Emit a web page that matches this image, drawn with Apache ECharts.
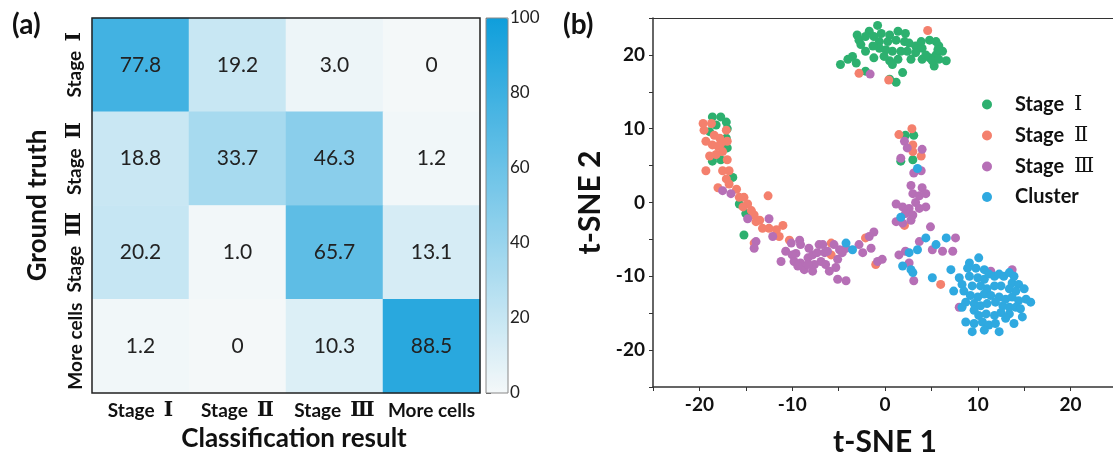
<!DOCTYPE html>
<html>
<head>
<meta charset="utf-8">
<script src="https://cdn.jsdelivr.net/npm/echarts@6/dist/echarts.min.js"></script>
<style>
html, body { margin: 0; padding: 0; background: #fff; overflow: hidden; }
#chart { width: 1120px; height: 462px; }
</style>
</head>
<body>
<div id="chart"></div>
<script>
var FONT = 'Lato, "Noto Sans CJK SC", sans-serif';
var SERIF = '"DejaVu Serif", "Liberation Serif", "Noto Sans CJK SC", serif';

// (a) confusion matrix
var predLabels = ['Stage Ⅰ', 'Stage Ⅱ', 'Stage Ⅲ', 'More cells'];
var trueLabels = ['Stage Ⅰ', 'Stage Ⅱ', 'Stage Ⅲ', 'More cells'];
var rowStage1 = [77.8, 19.2, 3.0, 0];
var rowStage2 = [18.8, 33.7, 46.3, 1.2];
var rowStage3 = [20.2, 1.0, 65.7, 13.1];
var rowMore = [1.2, 0, 10.3, 88.5];
var colorbarTicks = [0, 20, 40, 60, 80, 100];

// (b) t-SNE points
var stage1Pts = [
	[-0.8, 24.0], [-1.7, 23.2], [-3.0, 22.7], [-2.8, 22.0], [-2.1, 22.5], [-1.2, 22.5], [-0.4, 22.9],
	[0.5, 22.7], [1.4, 23.2], [2.2, 22.9], [-0.6, 21.8], [0.3, 21.8], [1.2, 22.0], [2.1, 21.8],
	[2.6, 21.6], [3.3, 21.2], [4.0, 20.9], [4.8, 22.0], [5.5, 21.8], [5.8, 21.2], [6.2, 20.5],
	[5.5, 20.0], [4.8, 19.6], [4.0, 19.4], [3.3, 20.3], [2.4, 20.5], [1.7, 20.5], [0.8, 20.5],
	[0.1, 20.7], [-0.6, 20.9], [-1.3, 21.2], [-2.1, 20.5], [-1.2, 19.6], [0.5, 19.2], [1.4, 19.4],
	[0.8, 18.7], [5.3, 18.5], [6.6, 19.2], [5.1, 19.2], [5.8, 19.4], [-3.5, 19.8], [-4.0, 19.4],
	[-4.8, 18.7], [-3.1, 18.9], [-2.1, 17.8], [1.9, 17.6], [1.2, 16.3], [0.5, 16.7], [-2.6, 21.4],
	[-0.1, 19.8], [2.8, 19.4], [4.4, 20.0], [5.7, 20.7], [3.9, 21.8],
	[-18.6, 11.6], [-17.7, 11.6], [-17.1, 10.9], [-17.0, 10.0], [-17.1, 8.7], [-17.0, 7.4],
	[-17.7, 5.8], [-18.6, 5.6], [-18.9, 9.6], [-18.2, 10.5], [-16.4, 3.4], [-15.7, -0.2],
	[-15.0, -1.5], [-15.2, -4.4],
	[2.2, 9.1], [3.1, 9.1], [1.7, 5.6], [3.0, 5.8]
];
var stage2Pts = [
	[4.6, 23.3], [-2.8, 17.5], [0.4, 16.6],
	[-19.6, 10.7], [-18.7, 10.7], [-19.5, 9.8], [-19.3, 8.3], [-18.4, 9.1], [-17.8, 8.7], [-18.6, 7.8],
	[-18.0, 7.6], [-17.5, 6.9], [-18.9, 6.3], [-18.2, 6.5], [-17.0, 5.8], [-17.1, 9.8], [-17.0, 8.3],
	[-17.7, 8.0], [-19.3, 4.3], [-17.5, 4.3], [-16.8, 4.3], [-17.1, 3.2], [-18.0, 2.0], [-16.8, 2.5],
	[-16.0, 1.8], [-15.7, 0.7], [-15.2, 0.7], [-14.8, -0.2], [-15.3, -0.6], [-14.4, -1.1], [-14.1, -1.7],
	[-13.5, -2.4], [-13.2, -3.5], [-12.5, -3.5], [-11.7, -3.7], [-11.0, -3.1], [-11.4, -4.6],
	[-10.3, -5.1], [-14.1, -5.5], [-12.6, 0.9], [-13.9, -2.6],
	[-5.8, -5.5], [-5.8, -7.1], [-2.1, -4.8], [-1.0, -8.4],
	[1.5, 9.2], [2.9, 10.0], [3.0, 7.8], [3.0, 6.9], [3.9, 6.3], [2.1, -3.1], [6.0, -11.1]
];
var stage3Pts = [
	[-1.6, 17.4],
	[-17.5, 1.6], [-16.6, 1.2], [-14.8, -2.2], [-12.5, -2.2], [-12.1, -4.6], [-13.9, -5.3], [-14.1, -6.2],
	[-10.1, -5.5], [-9.2, -5.1], [-10.7, -6.6], [-9.6, -6.9],
	[-9.1, -5.7], [-10.0, -7.1], [-11.2, -8.0], [-9.8, -8.0], [-9.1, -8.2], [-8.7, -9.1], [-7.8, -9.3],
	[-8.3, -7.5], [-7.8, -7.1], [-7.1, -5.7], [-7.3, -6.8], [-6.5, -6.8], [-6.9, -8.0], [-6.4, -8.4],
	[-6.0, -9.3], [-5.3, -8.8], [-5.1, -7.7], [-4.9, -6.4], [-5.5, -5.7], [-4.6, -6.8], [-4.2, -6.2],
	[-2.8, -5.7], [-2.4, -6.8], [-1.5, -6.2], [-1.7, -4.6], [-1.2, -4.0], [-0.8, -8.0], [-0.3, -7.7],
	[-5.1, -10.4], [-4.2, -10.6], [-7.6, -8.4], [-8.3, -8.4], [-9.4, -8.6], [-6.2, -6.6], [-8.2, -6.2],
	[-6.7, -5.7],
	[2.1, 8.3], [2.4, 7.4], [4.0, 7.2], [1.7, 6.0], [3.1, 4.0], [3.9, 4.3], [2.8, 2.3], [4.0, 2.0],
	[3.0, 1.2], [3.7, 0.9], [4.4, 1.2], [3.3, 0.0], [4.4, -0.6], [1.2, -0.2], [1.9, -0.6], [2.6, -0.8],
	[3.7, -0.8], [2.2, -1.5], [3.0, -1.7], [1.2, -2.6], [1.9, -2.8], [2.8, -2.4], [4.9, -3.3],
	[2.2, -6.6], [3.7, -5.3], [5.1, -6.4], [6.2, -6.6], [7.3, -6.6], [7.6, -4.8], [1.5, -7.1],
	[3.1, -10.6], [2.6, -8.2],
	[11.4, -9.3], [13.7, -9.1], [8.0, -14.2]
];
var clusterPts = [
	[-4.2, -5.5], [-3.5, -6.4],
	[3.5, 4.6], [1.7, -2.0], [4.4, -4.8], [5.5, -5.7], [6.6, -4.8], [3.5, -6.4], [2.6, -6.8],
	[1.9, -8.6], [2.8, -9.1], [3.0, -9.5], [5.1, -10.2], [7.1, -9.1],
	[10.1, -7.5], [9.1, -8.2], [8.9, -8.9], [9.8, -8.9], [10.7, -9.1], [8.0, -10.2], [9.1, -10.0],
	[10.0, -10.2], [10.7, -10.4], [11.2, -9.7], [11.8, -10.0], [12.3, -9.7], [12.8, -10.0], [13.4, -9.5],
	[13.9, -10.0], [13.7, -10.9], [14.4, -11.1], [15.0, -11.7], [14.1, -12.0], [13.4, -11.7],
	[12.5, -11.3], [11.8, -11.3], [11.0, -11.7], [10.3, -11.3], [9.4, -11.3], [8.3, -11.1], [7.4, -12.0],
	[8.5, -12.0], [9.2, -12.6], [10.0, -12.8], [10.7, -12.4], [11.4, -12.6], [12.3, -12.8], [13.0, -13.1],
	[13.7, -12.8], [14.4, -13.3], [15.2, -13.1], [15.7, -13.5], [8.7, -13.5], [9.6, -13.7], [10.3, -14.0],
	[11.0, -13.7], [11.9, -13.5], [12.7, -14.0], [13.4, -14.2], [14.1, -14.2], [14.6, -14.4], [9.6, -14.6],
	[10.1, -15.3], [10.9, -15.1], [11.8, -15.3], [12.5, -14.9], [13.4, -15.1], [14.8, -15.5], [8.7, -16.2],
	[9.6, -16.4], [10.5, -16.2], [11.2, -16.6], [11.9, -16.4], [10.7, -17.3], [12.3, -17.5], [9.4, -17.5],
	[13.9, -16.4], [13.0, -15.7], [8.3, -14.2]
];
var tsneTicks = [-20, -10, 0, 10, 20];

var matrix = [rowStage1, rowStage2, rowStage3, rowMore];
var heatData = [];
matrix.forEach(function(row, i) {
	row.forEach(function(v, j) {
		heatData.push([j, i, v]);
	});
});

function fmtCell(v) {
	return v === 0 ? '0' : v.toFixed(1);
}

// "Stage Ⅱ" -> rich text with a serif numeral
function stageRich(v) {
	var parts = v.split(' ');
	if (parts[0] === 'Stage') {
		return '{s|Stage  }{r|' + parts[1] + '}';
	}
	return '{s|' + v + '}';
}

var labelRich = {
	s : { fontFamily : FONT, fontSize : 19, fontWeight : 'bold', color : '#111' },
	r : { fontFamily : SERIF, fontSize : 20, fontWeight : 'bold', color : '#111' }
};

var scatterItem = function(name, pts, color) {
	return {
		name : name,
		type : 'scatter',
		xAxisIndex : 2,
		yAxisIndex : 2,
		symbolSize : 9,
		itemStyle : { color : color, opacity : 1 },
		data : pts
	};
};

var option = {
	animation : false,
	textStyle : { fontFamily : FONT },
	grid : [
		{ left : 92, top : 18, width : 388, height : 375, show : true, z : 10,
			borderColor : '#222', borderWidth : 1.5, backgroundColor : 'transparent' },
		{ left : 486, top : 18, width : 22, height : 375, show : true, z : 10,
			borderColor : '#888', borderWidth : 1, backgroundColor : 'transparent' },
		{ left : 653, top : 18, width : 465, height : 375 }
	],
	title : [
		{ text : '(a)', left : 7, top : 6, textStyle : { fontFamily : FONT, fontSize : 28, fontWeight : 'bold', color : '#111' } },
		{ text : '(b)', left : 558, top : 6, textStyle : { fontFamily : FONT, fontSize : 28, fontWeight : 'bold', color : '#111' } }
	],
	legend : {
		orient : 'vertical',
		left : 977,
		top : 89,
		itemWidth : 10,
		itemHeight : 10,
		itemGap : 10,
		icon : 'circle',
		formatter : stageRich,
		textStyle : {
			fontFamily : FONT, fontSize : 20, fontWeight : 'bold', color : '#111', padding : [0, 0, 0, 18],
			rich : {
				s : { fontFamily : FONT, fontSize : 20, fontWeight : 'bold', color : '#111' },
				r : { fontFamily : SERIF, fontSize : 21, fontWeight : 'normal', color : '#111' }
			}
		},
		data : ['Stage Ⅰ', 'Stage Ⅱ', 'Stage Ⅲ', 'Cluster']
	},
	visualMap : {
		type : 'continuous',
		seriesIndex : 0,
		min : 0,
		max : 100,
		calculable : false,
		hoverLink : false,
		left : 486,
		top : 18,
		padding : 0,
		itemWidth : 22,
		itemHeight : 375,
		text : null,
		showLabel : false,
		z : 1,
		inRange : { color : ['#f4f8f9', '#0f9edb'] }
	},
	xAxis : [
		{
			gridIndex : 0,
			type : 'category',
			data : predLabels,
			axisLine : { show : false },
			axisTick : { show : false },
			axisLabel : { interval : 0, margin : 8, formatter : stageRich, rich : labelRich },
			name : 'Classification result',
			nameLocation : 'middle',
			nameGap : 33,
			nameTextStyle : { fontFamily : FONT, fontSize : 26, fontWeight : 'bold', color : '#111', padding : [0, 0, 0, 16] }
		},
		{
			gridIndex : 1,
			type : 'value',
			min : 0,
			max : 1,
			show : false
		},
		{
			gridIndex : 2,
			type : 'value',
			min : -25,
			max : 25,
			interval : 5,
			axisLine : { onZero : false, lineStyle : { color : '#333', width : 1.5 } },
			axisTick : { length : 4, lineStyle : { color : '#333' } },
			splitLine : { show : false },
			axisLabel : {
				fontFamily : FONT, fontSize : 19, fontWeight : 'bold', color : '#111', margin : 8,
				formatter : function(v) { return tsneTicks.indexOf(v) >= 0 ? String(v) : ''; }
			},
			name : 't-SNE 1',
			nameLocation : 'middle',
			nameGap : 40,
			nameTextStyle : { fontFamily : FONT, fontSize : 30, fontWeight : 'bold', color : '#111' }
		},
		{
			gridIndex : 2,
			type : 'value',
			position : 'top',
			min : -25,
			max : 25,
			axisLine : { onZero : false, lineStyle : { color : '#333', width : 1.2 } },
			axisTick : { show : false },
			axisLabel : { show : false },
			splitLine : { show : false }
		}
	],
	yAxis : [
		{
			gridIndex : 0,
			type : 'category',
			inverse : true,
			data : trueLabels,
			axisLine : { show : false },
			axisTick : { show : false },
			axisLabel : { interval : 0, rotate : 90, margin : 7, formatter : stageRich, rich : labelRich },
			name : 'Ground truth',
			nameLocation : 'middle',
			nameGap : 41,
			nameTextStyle : { fontFamily : FONT, fontSize : 26, fontWeight : 'bold', color : '#111' }
		},
		{
			gridIndex : 1,
			type : 'value',
			position : 'right',
			min : 0,
			max : 100,
			interval : 20,
			axisLine : { show : false },
			axisTick : { show : true, length : 5, lineStyle : { color : '#555' } },
			splitLine : { show : false },
			axisLabel : {
				fontFamily : FONT, fontSize : 17, color : '#222', margin : 2,
				formatter : function(v) { return colorbarTicks.indexOf(v) >= 0 ? String(v) : ''; }
			}
		},
		{
			gridIndex : 2,
			type : 'value',
			min : -25,
			max : 25,
			interval : 5,
			axisLine : { show : true, onZero : false, lineStyle : { color : '#333', width : 1.5 } },
			axisTick : { show : true, length : 4, lineStyle : { color : '#333' } },
			splitLine : { show : false },
			axisLabel : {
				fontFamily : FONT, fontSize : 19, fontWeight : 'bold', color : '#111', margin : 8,
				formatter : function(v) { return tsneTicks.indexOf(v) >= 0 ? String(v) : ''; }
			},
			name : 't-SNE 2',
			nameLocation : 'middle',
			nameGap : 48,
			nameTextStyle : { fontFamily : FONT, fontSize : 30, fontWeight : 'bold', color : '#111' }
		}
	],
	series : [
		{
			type : 'heatmap',
			xAxisIndex : 0,
			yAxisIndex : 0,
			data : heatData,
			label : {
				show : true,
				fontFamily : FONT,
				fontSize : 21,
				color : '#222',
				formatter : function(p) { return fmtCell(p.value[2]); }
			},
			emphasis : { disabled : true }
		},
		scatterItem('Stage Ⅰ', stage1Pts, '#2db06f'),
		scatterItem('Stage Ⅱ', stage2Pts, '#f4806d'),
		scatterItem('Stage Ⅲ', stage3Pts, '#b66fb6'),
		scatterItem('Cluster', clusterPts, '#2fa9e0')
	]
};

var chart = echarts.init(document.getElementById('chart'));
chart.setOption(option);
</script>
</body>
</html>
